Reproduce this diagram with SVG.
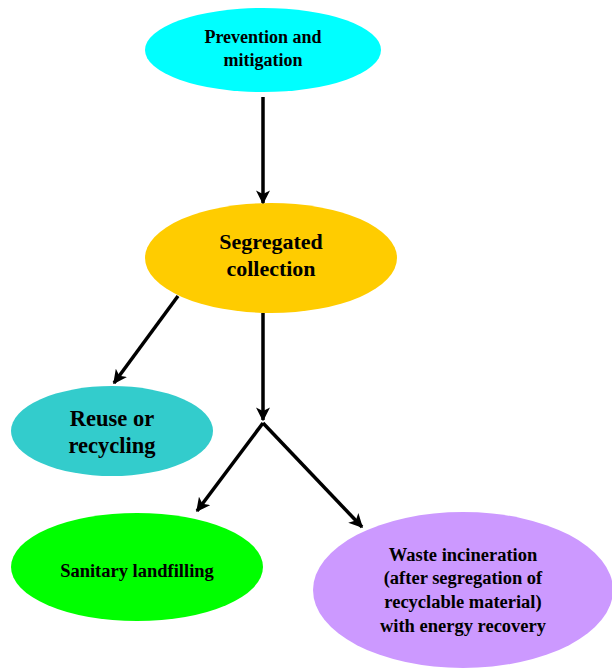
<svg xmlns="http://www.w3.org/2000/svg" width="612" height="668" viewBox="0 0 612 668">
<style>
text{font-family:"Liberation Serif","Times New Roman",serif;font-weight:bold;fill:#000;text-anchor:middle}
.c{stroke:#000;stroke-width:3.5;fill:none;marker-end:url(#ah)}
</style>
<defs>
<marker id="ah" viewBox="0 0 10 10" refX="9" refY="5" markerWidth="4" markerHeight="4" orient="auto" markerUnits="strokeWidth">
<path d="M0,0 L10,5 L0,10 L2.5,5 z" fill="#000"/>
</marker>
</defs>
<rect width="612" height="668" fill="#fff"/>
<g id="n1">
<ellipse cx="263" cy="50" rx="118" ry="42" fill="#00ffff"/>
<text x="263" y="43" font-size="18">Prevention and</text>
<text x="263" y="66" font-size="18">mitigation</text>
</g>
<g id="n2">
<ellipse cx="271" cy="258" rx="126" ry="55" fill="#ffcc00"/>
<text x="271" y="249" font-size="22">Segregated</text>
<text x="271" y="276" font-size="22">collection</text>
</g>
<g id="n3">
<ellipse cx="112" cy="431" rx="101" ry="45" fill="#33cccc"/>
<text x="112" y="426" font-size="22.5">Reuse or</text>
<text x="112" y="453" font-size="22.5">recycling</text>
</g>
<g id="n4">
<ellipse cx="137" cy="567" rx="126" ry="54" fill="#00ff00"/>
<text x="137" y="577" font-size="18.5">Sanitary landfilling</text>
</g>
<g id="n5">
<ellipse cx="463" cy="590" rx="150" ry="78" fill="#cc99ff"/>
<text x="463" y="561" font-size="18.5">Waste incineration</text>
<text x="463" y="584" font-size="18.5">(after segregation of</text>
<text x="463" y="608" font-size="18.5">recyclable material)</text>
<text x="463" y="632" font-size="18.5">with energy recovery</text>
</g>
<g id="connectors">
<line class="c" x1="263" y1="97" x2="263" y2="203"/>
<line class="c" x1="178" y1="296" x2="114" y2="383"/>
<line class="c" x1="263" y1="313" x2="263" y2="420"/>
<line class="c" x1="263" y1="423" x2="197" y2="511"/>
<line class="c" x1="263" y1="423" x2="362" y2="527"/>
</g>
</svg>
